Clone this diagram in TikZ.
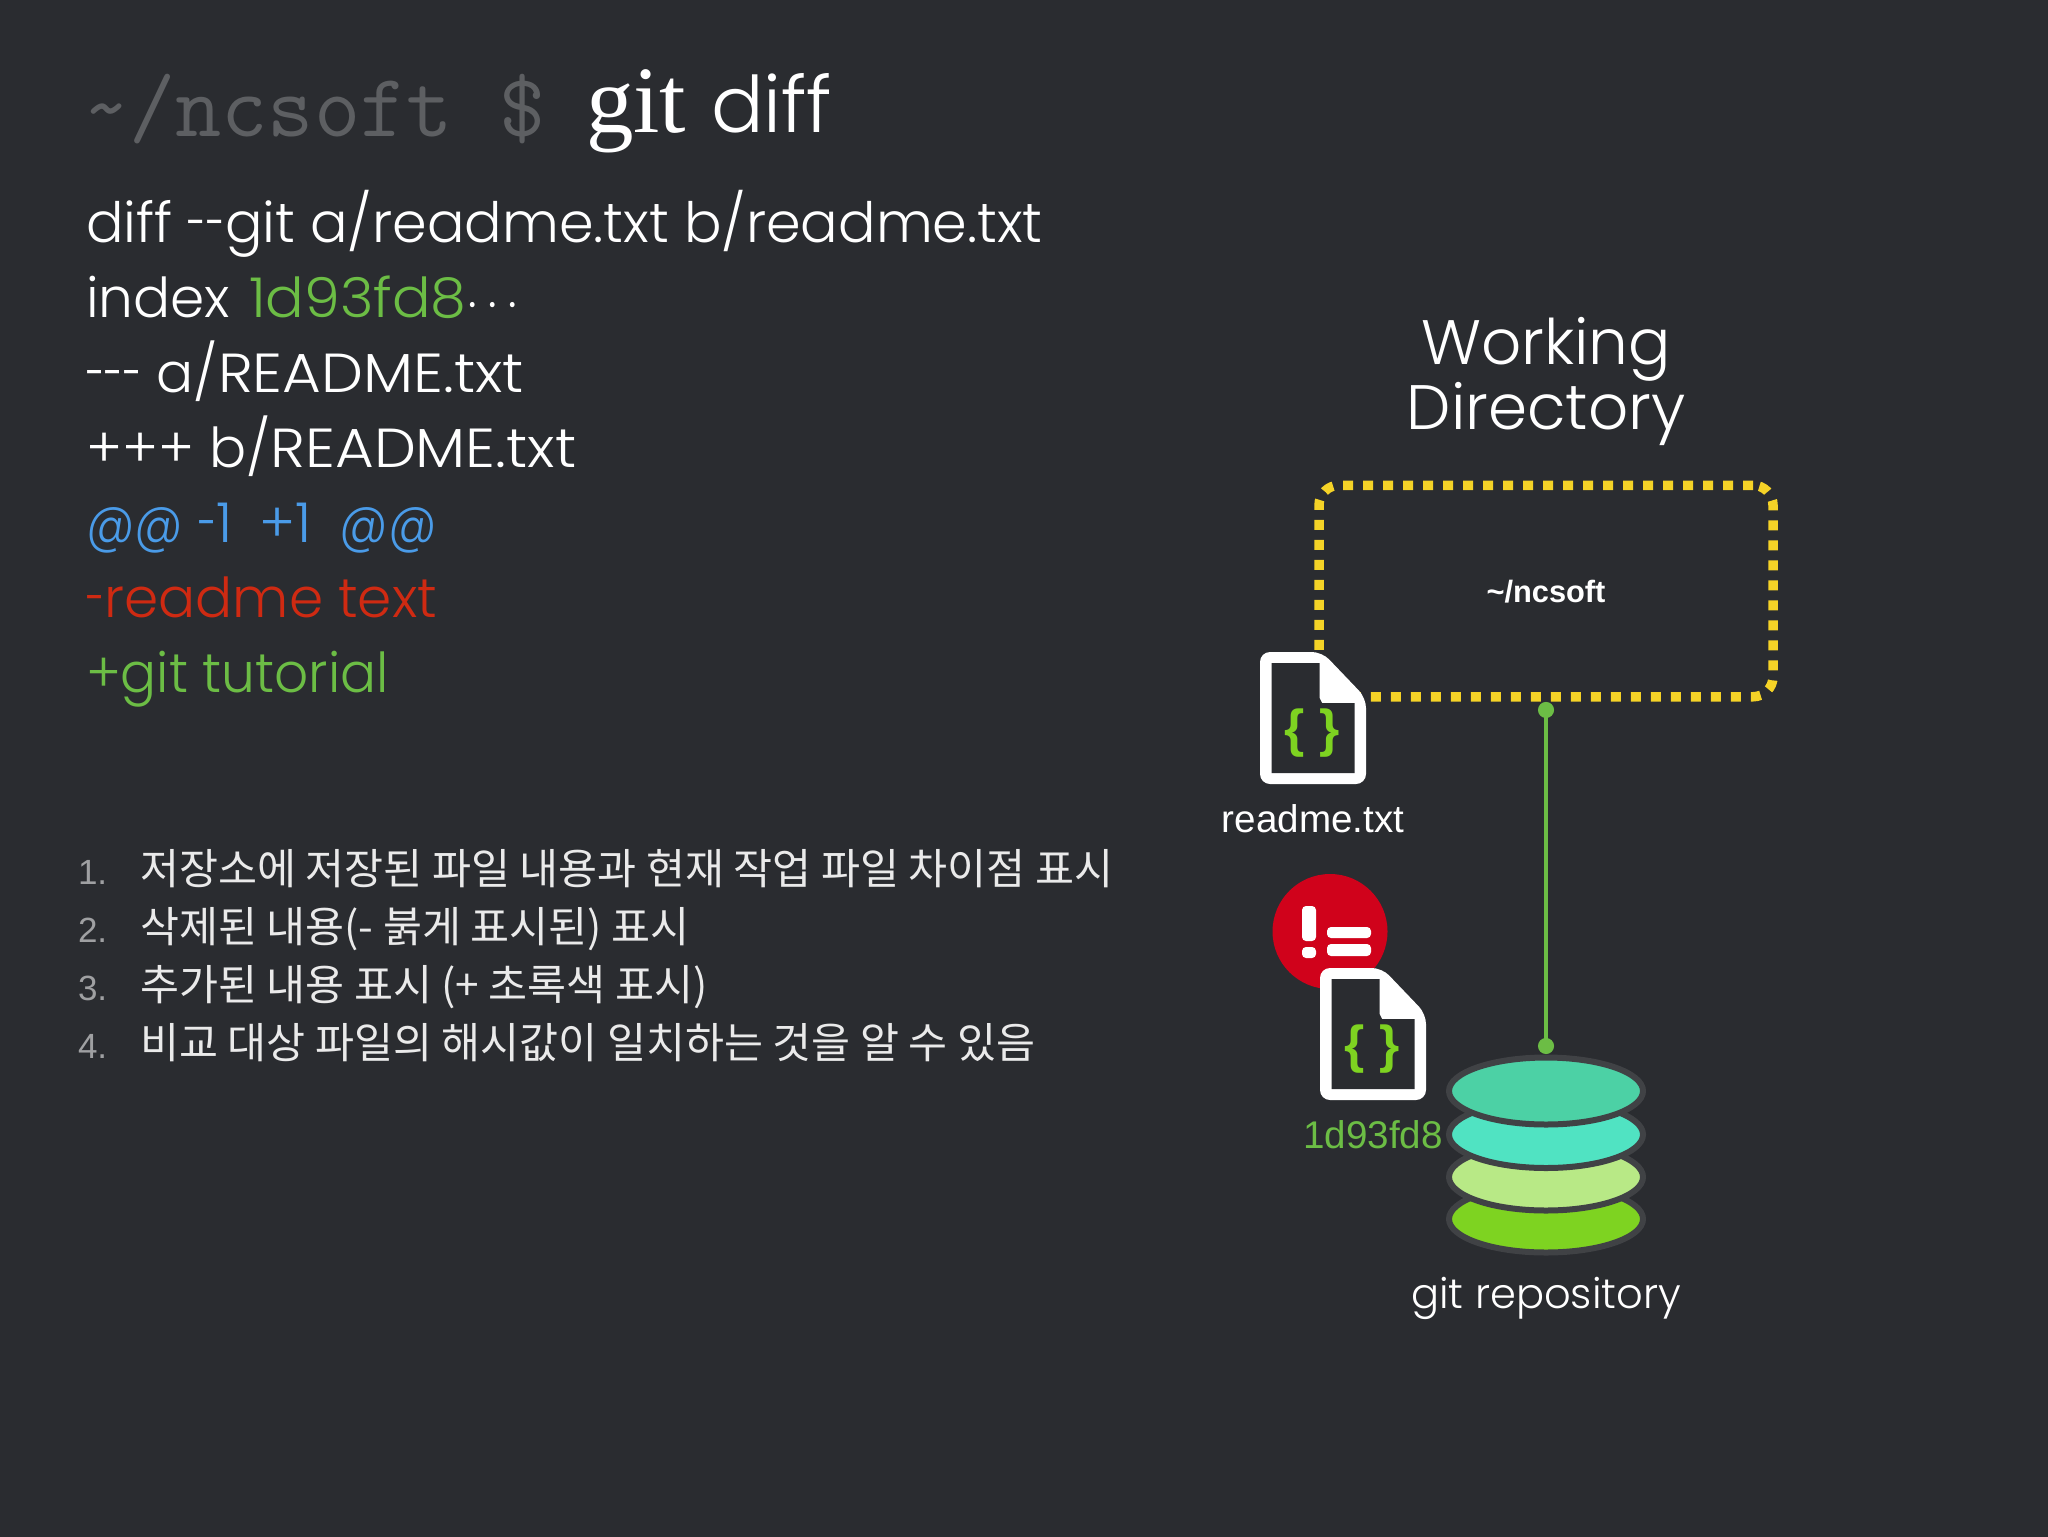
\documentclass[tikz,border=0pt]{standalone}
\usepackage{fontspec}
\usepackage{tikz}
\usetikzlibrary{arrows.meta,positioning,shapes.geometric}
\setmainfont{Liberation Sans}
\newfontfamily\gothicfont{Poppins Light}
\newfontfamily\kofont{Noto Sans CJK KR}
\newfontfamily\serifword{Liberation Serif}
\definecolor{slate}{HTML}{2A2C30}
\definecolor{leaf}{HTML}{6CBD45}
\definecolor{sky}{HTML}{4A9BE8}
\definecolor{brick}{HTML}{CF2A12}
\definecolor{sun}{HTML}{F5D327}
\definecolor{brace}{HTML}{7ED321}
\definecolor{rim}{HTML}{404245}
\definecolor{jade}{HTML}{4CD1A5}
\definecolor{aqua}{HTML}{50E3C2}
\definecolor{lime}{HTML}{B8E986}
\definecolor{alarm}{HTML}{D0021B}
\newcommand{\thin}[1]{\scalebox{.65}[1]{#1}}
\newcommand{\wide}[1]{\scalebox{1.08}[1]{#1}}
\newcommand{\atsigns}{\scalebox{.88}[1]{@@}}
\tikzset{
    every node/.style={inner sep=0pt,outer sep=0pt},
    codeline/.style={font=\gothicfont\fontsize{27.5}{33}\selectfont,text=white,anchor=base west},
    caption/.style={font=\gothicfont\fontsize{31.4}{36}\selectfont,text=white,anchor=base},
    smalltext/.style={font=\fontsize{19.3}{23}\selectfont,anchor=base},
    knum/.style={font=\fontsize{17.5}{20}\selectfont,text=white!55!slate,anchor=base west},
    kline/.style={font=\kofont\fontsize{21.2}{24}\selectfont,text=white!90!slate,anchor=base west},
    disc/.style={ellipse,draw=rim,line width=3pt,minimum width=97pt,minimum height=33.5pt},
    workbox/.style={rectangle,draw=sun,line width=4.75pt,dash pattern=on 5pt off 5pt,rounded corners=10pt,minimum width=227pt,minimum height=105.75pt},
    flowline/.style={draw=leaf,line width=2pt,{Circle[length=8pt,width=8pt]}-{Circle[length=8pt,width=8pt]},shorten <=2.6pt,shorten >=1.75pt},
    pics/fileicon/.style={code={
        \fill[white,rounded corners=5pt] (0,0) -- (62,0) -- (106,46) -- (106,132) -- (0,132) -- cycle;
        \fill[slate] (11.5,11) -- (59.5,11) -- (59.5,46) -- (62,51) -- (94.5,51) -- (94.5,121) -- (11.5,121) -- cycle;
        \node[font=\bfseries\fontsize{26}{26}\selectfont,text=brace] (-left) at (35,81) {\{};
        \node[font=\bfseries\fontsize{26}{26}\selectfont,text=brace] (-right) at (70,81) {\}};
        \coordinate (-foot) at (53,132);
    }}
}
\begin{document}
\begin{tikzpicture}[x=0.5pt,y=-0.5pt]
    \useasboundingbox (0,0) rectangle (2048,1536);
    \fill[slate] (-10,-10) rectangle (2058,1546);

    \node[font=\ttfamily\fontsize{44.9}{46}\selectfont,text=white!24!slate,anchor=base west] (prompt) at (83,136) {\textasciitilde/ncsoft \$};
    \node[font=\serifword\fontsize{47.5}{50}\selectfont,text=white,anchor=base west] (gitword) at (586,133) {git};
    \node[font=\gothicfont\fontsize{39}{42}\selectfont,text=white,anchor=base west] (diffword) at (711,133) {diff};

    \node[codeline, font=\gothicfont\fontsize{27.8}{33}\selectfont] (line1) at (86,242) {diff \thin{--}git a/readme.txt b/readme.txt};
    \node[codeline, below=37.5pt of line1.base west, anchor=base west] (line2) {index \hspace{2pt}\textcolor{leaf}{\scalebox{1.04}[1]{1d93fd8}}\scalebox{.9}[1]{$\cdots$}};
    \node[codeline, below=37.5pt of line2.base west, anchor=base west] (line3) {\thin{---} a/\wide{README.txt}};
    \node[codeline, below=37.5pt of line3.base west, anchor=base west] (line4) {+++ b/\wide{README.txt}};
    \node[codeline, below=37.5pt of line4.base west, anchor=base west, text=sky] (line5) {\atsigns{} \thin{-}1\hspace{6pt} +1\hspace{6.5pt} \atsigns};
    \node[codeline, below=37.5pt of line5.base west, anchor=base west, text=brick] (line6) {\thin{-}readme text};
    \node[codeline, below=37.5pt of line6.base west, anchor=base west, text=leaf] (line7) {\scalebox{.97}[1]{+git tutorial}};

    \node[knum] (num1) at (78,884) {1.};
    \node[knum, below=29pt of num1.base west, anchor=base west] (num2) {2.};
    \node[knum, below=29pt of num2.base west, anchor=base west] (num3) {3.};
    \node[knum, below=29pt of num3.base west, anchor=base west] (num4) {4.};
    \node[kline] (item1) at (140,884) {저장소에 저장된 파일 내용과 현재 작업 파일 차이점 표시};
    \node[kline, below=29pt of item1.base west, anchor=base west] (item2) {삭제된 내용(- 붉게 표시된) 표시};
    \node[kline, below=29pt of item2.base west, anchor=base west] (item3) {추가된 내용 표시 (+ 초록색 표시)};
    \node[kline, below=29pt of item3.base west, anchor=base west] (item4) {비교 대상 파일의 해시값이 일치하는 것을 알 수 있음};

    \node[workbox] (workdir) at (1546,591) {};
    \node[font=\bfseries\fontsize{15.4}{18}\selectfont,text=white,anchor=base] (workname) at (1546,602) {\textasciitilde/ncsoft};
    \node[caption, above=28pt of workdir.north, anchor=base] (titleB) {Directory};
    \node[caption, above=32.5pt of titleB.base, anchor=base] (titleA) {Working};

    \node[disc,fill=brace] (disc4) at (1546,1219) {};
    \node[disc,fill=lime] (disc3) at (1546,1177) {};
    \node[disc,fill=aqua] (disc2) at (1546,1134.5) {};
    \node[disc,fill=jade] (disc1) at (1546,1091) {};
    \draw[flowline] (workdir.south) -- (disc1.north);
    \node[caption, below=28pt of disc4.south, anchor=base, font=\gothicfont\fontsize{20.8}{24}\selectfont] (repolabel) {git repository};

    \pic (readme) at (1260,652) {fileicon};
    \node[smalltext, below=24pt of readme-foot, anchor=base, text=white] (readmelabel) {readme.txt};

    \node[circle,fill=alarm,minimum size=57.5pt] (alert) at (1330,931.5) {};
    \fill[white,rounded corners=2pt] (1302,906) rectangle (1316,941);
    \fill[white,rounded corners=2pt] (1302,947) rectangle (1316,958);
    \fill[white,rounded corners=2pt] (1327,927) rectangle (1371,938);
    \fill[white,rounded corners=2pt] (1327,944) rectangle (1371,956);
    \pic (stored) at (1320,968) {fileicon};
    \node[smalltext, below=24pt of stored-foot, anchor=base, text=leaf] (hashlabel) {1d93fd8};
\end{tikzpicture}
\end{document}
